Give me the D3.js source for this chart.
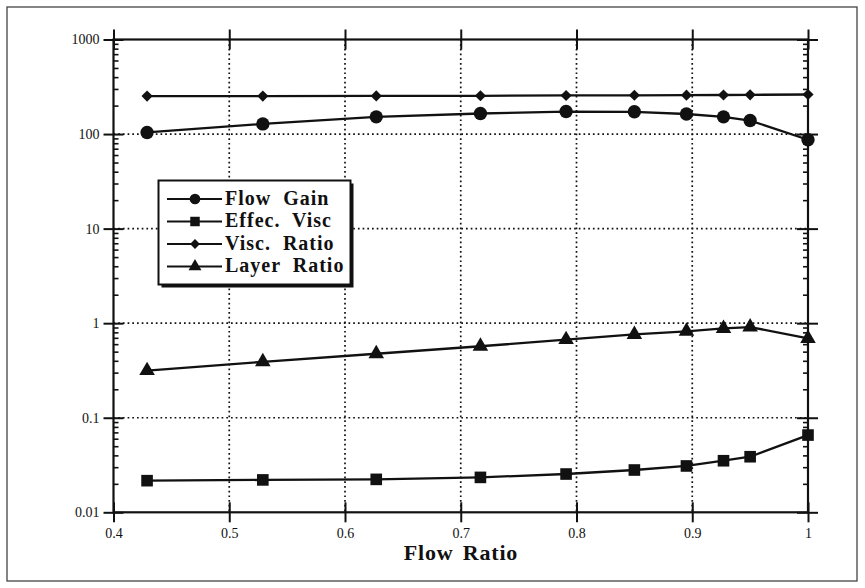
<!DOCTYPE html>
<html>
<head>
<meta charset="utf-8">
<script src="https://cdn.jsdelivr.net/npm/d3@7/dist/d3.min.js"></script>
<style>
  html, body { margin: 0; padding: 0; background: #fff; }
  svg { display: block; }
  text { font-family: "Liberation Serif", "Times New Roman", serif; fill: #111; }
</style>
</head>
<body>
<svg id="chart" width="865" height="588"></svg>
<script>
// Flow ratio at which each measurement was taken
const flowRatio = [0.429, 0.529, 0.627, 0.717, 0.791, 0.850, 0.895, 0.927, 0.950, 1.0];

// Measured series (log scale)
const flowGain    = [104, 128, 152, 165, 173, 172, 163, 152, 139, 87];
const effecVisc   = [0.0216, 0.0220, 0.0223, 0.0234, 0.0254, 0.0280, 0.0309, 0.0351, 0.0387, 0.0656];
const viscRatio   = [252, 252, 253, 254, 256, 257, 258, 259, 260, 262];
const layerRatio  = [0.315, 0.39, 0.475, 0.57, 0.67, 0.76, 0.82, 0.88, 0.91, 0.69];

const seriesNames = ["Flow  Gain", "Effec.  Visc", "Visc.  Ratio", "Layer  Ratio"];

// Axis tick values and labels
const xTicks = [0.4, 0.5, 0.6, 0.7, 0.8, 0.9, 1.0];
const xTickLabels = ["0.4", "0.5", "0.6", "0.7", "0.8", "0.9", "1"];
const yTicks = [0.01, 0.1, 1, 10, 100, 1000];
const yTickLabels = ["0.01", "0.1", "1", "10", "100", "1000"];
const xTitle = "Flow Ratio";

const svg = d3.select("#chart");

// outer frame around the whole figure
svg.append("rect")
  .attr("x", 7).attr("y", 7).attr("width", 850).attr("height", 574)
  .attr("fill", "none").attr("stroke", "#444").attr("stroke-width", 1.3);

const plot = { left: 113.5, right: 808, top: 39.5, bottom: 512.3 };

const x = d3.scaleLinear().domain([0.4, 1.0]).range([plot.left, plot.right]);
const y = d3.scaleLog().domain([0.01, 1000]).range([plot.bottom, plot.top]);

// dotted grid at the inner major ticks
const grid = svg.append("g").attr("stroke", "#111").attr("stroke-width", 1.7)
  .attr("stroke-dasharray", "1.7,3").attr("fill", "none");
grid.selectAll("line.gx").data(xTicks.slice(1, -1)).join("line")
  .attr("x1", d => x(d)).attr("x2", d => x(d))
  .attr("y1", plot.top).attr("y2", plot.bottom);
grid.selectAll("line.gy").data(yTicks.slice(1, -1)).join("line")
  .attr("x1", plot.left).attr("x2", plot.right)
  .attr("y1", d => y(d)).attr("y2", d => y(d));

// minor log ticks (2..9 in every decade)
const minor = [];
for (let e = -2; e < 3; e++) for (let m = 2; m <= 9; m++) minor.push(m * Math.pow(10, e));

function styleAxis(g) {
  g.select(".domain").remove();
  g.selectAll(".tick line").attr("stroke", "#111").attr("stroke-width", 2);
  g.selectAll(".tick text")
    .style("font-family", '"Liberation Serif", "Times New Roman", serif')
    .style("font-size", "14px").attr("fill", "#111");
}

// bottom axis: outward ticks with labels, inward stubs without
svg.append("g").attr("transform", `translate(0,${plot.bottom})`)
  .call(d3.axisBottom(x).tickValues(xTicks).tickSize(10).tickPadding(6)
    .tickFormat((d, i) => xTickLabels[i]))
  .call(styleAxis);
svg.append("g").attr("transform", `translate(0,${plot.bottom})`)
  .call(d3.axisBottom(x).tickValues(xTicks).tickSize(-10).tickFormat(""))
  .call(styleAxis);
// top axis ticks crossing the frame
svg.append("g").attr("transform", `translate(0,${plot.top})`)
  .call(d3.axisTop(x).tickValues(xTicks).tickSize(10).tickFormat(""))
  .call(styleAxis);
svg.append("g").attr("transform", `translate(0,${plot.top})`)
  .call(d3.axisTop(x).tickValues(xTicks).tickSize(-10).tickFormat(""))
  .call(styleAxis);

// left axis: labels on decades, minor ticks inward
svg.append("g").attr("transform", `translate(${plot.left},0)`)
  .call(d3.axisLeft(y).tickValues(yTicks).tickSize(10).tickPadding(4)
    .tickFormat((d, i) => yTickLabels[i]))
  .call(styleAxis);
svg.append("g").attr("transform", `translate(${plot.left},0)`)
  .call(d3.axisLeft(y).tickValues(yTicks).tickSize(-10).tickFormat(""))
  .call(styleAxis);
svg.append("g").attr("transform", `translate(${plot.left},0)`)
  .call(d3.axisLeft(y).tickValues(minor).tickSize(-5).tickFormat(""))
  .call(styleAxis)
  .call(g => g.selectAll(".tick line").attr("stroke-width", 1.6));

// right axis: majors crossing, minors inward
svg.append("g").attr("transform", `translate(${plot.right},0)`)
  .call(d3.axisRight(y).tickValues(yTicks).tickSize(10).tickFormat(""))
  .call(styleAxis);
svg.append("g").attr("transform", `translate(${plot.right},0)`)
  .call(d3.axisRight(y).tickValues(yTicks).tickSize(-11).tickFormat(""))
  .call(styleAxis);
svg.append("g").attr("transform", `translate(${plot.right},0)`)
  .call(d3.axisRight(y).tickValues(minor).tickSize(-5).tickFormat(""))
  .call(styleAxis)
  .call(g => g.selectAll(".tick line").attr("stroke-width", 1.6));

// plot frame
svg.append("rect")
  .attr("x", plot.left).attr("y", plot.top)
  .attr("width", plot.right - plot.left).attr("height", plot.bottom - plot.top)
  .attr("fill", "none").attr("stroke", "#111").attr("stroke-width", 2.2);

// marker shapes
const shapes = [
  { type: d3.symbolCircle, size: 140, rot: 0 },
  { type: d3.symbolSquare, size: 135, rot: 0 },
  { type: d3.symbolSquare, size: 62, rot: 45 },
  { type: d3.symbolTriangle, size: 105, rot: 0 }
];
const legendShapes = [
  { type: d3.symbolCircle, size: 90, rot: 0 },
  { type: d3.symbolSquare, size: 90, rot: 0 },
  { type: d3.symbolSquare, size: 48, rot: 45 },
  { type: d3.symbolTriangle, size: 72, rot: 0 }
];

const allSeries = [flowGain, effecVisc, viscRatio, layerRatio];
const line = d3.line().x(d => x(d[0])).y(d => y(d[1]));

allSeries.forEach((vals, si) => {
  const pts = flowRatio.map((fr, i) => [fr, vals[i]]);
  const g = svg.append("g");
  g.append("path").attr("d", line(pts))
    .attr("fill", "none").attr("stroke", "#111").attr("stroke-width", 2.3)
    .attr("stroke-linejoin", "round");
  const sh = shapes[si];
  g.selectAll("path.m").data(pts).join("path")
    .attr("class", "m")
    .attr("d", d3.symbol().type(sh.type).size(sh.size))
    .attr("transform", d => `translate(${x(d[0])},${y(d[1])}) rotate(${sh.rot})`)
    .attr("fill", "#111");
});

// legend box with drop shadow
const lg = { x: 158.5, y: 180.5, w: 192, h: 104 };
svg.append("rect").attr("x", lg.x + 3).attr("y", lg.y + 3)
  .attr("width", lg.w).attr("height", lg.h).attr("fill", "#111");
svg.append("rect").attr("x", lg.x).attr("y", lg.y)
  .attr("width", lg.w).attr("height", lg.h)
  .attr("fill", "#fff").attr("stroke", "#111").attr("stroke-width", 2);

const rowBase = [204.5, 227, 249.5, 272];
seriesNames.forEach((name, i) => {
  const cy = rowBase[i] - 5.5;
  svg.append("line").attr("x1", 167).attr("x2", 222).attr("y1", cy).attr("y2", cy)
    .attr("stroke", "#111").attr("stroke-width", 2);
  const sh = legendShapes[i];
  svg.append("path")
    .attr("d", d3.symbol().type(sh.type).size(sh.size))
    .attr("transform", `translate(195,${cy}) rotate(${sh.rot})`)
    .attr("fill", "#111");
  svg.append("text").attr("x", 225).attr("y", rowBase[i])
    .style("font-size", "20px").style("font-weight", "bold")
    .style("letter-spacing", "1px").style("white-space", "pre")
    .text(name);
});

// x-axis title
svg.append("text").attr("x", 461).attr("y", 560)
  .attr("text-anchor", "middle")
  .style("font-size", "22px").style("font-weight", "bold")
  .style("letter-spacing", "0.8px").style("word-spacing", "3px")
  .text(xTitle);
</script>
</body>
</html>
